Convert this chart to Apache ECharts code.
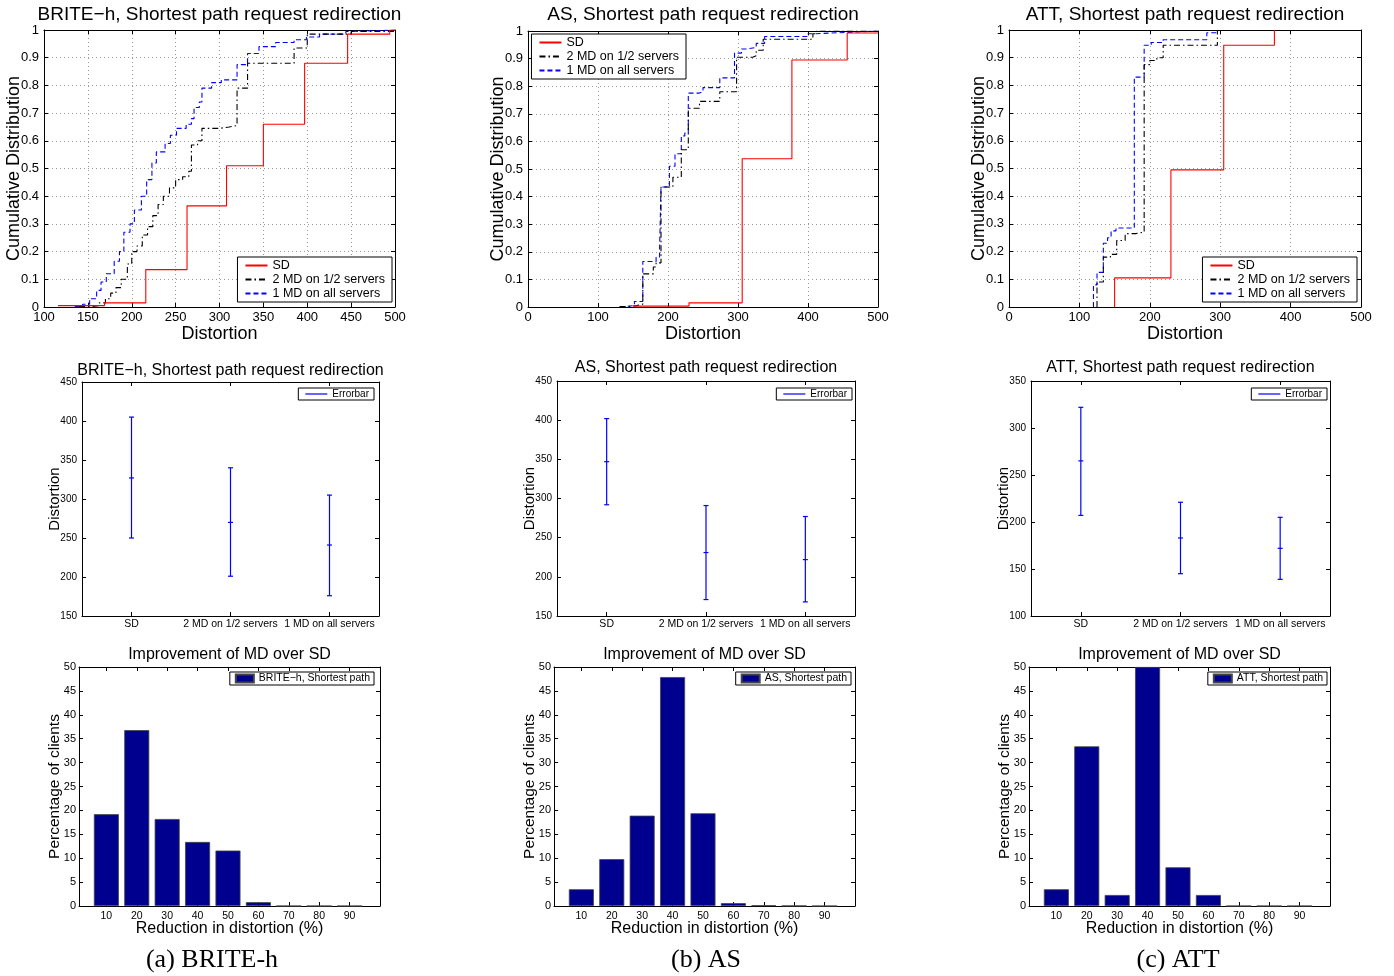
<!DOCTYPE html>
<html>
<head>
<meta charset="utf-8">
<title>Shortest path request redirection</title>
<script src="https://cdn.jsdelivr.net/npm/echarts@6/dist/echarts.min.js"></script>
<style>
    html, body { margin: 0; padding: 0; background: #fff; }
    #main { width: 1394px; height: 976px; }
</style>
</head>
<body>
<div id="main"></div>
<script>
// CDF of distortion, step points (x = distortion, y = cumulative)
const briteSdX = [116, 169, 216, 263, 308, 350, 397, 446, 494, 500];
const briteSdY = [0.005, 0.015, 0.135, 0.365, 0.51, 0.66, 0.88, 0.985, 1, 1];
const brite2mdX = [140, 155, 163, 170, 176, 182, 188, 195, 200, 206, 212, 218, 224, 230, 236, 243, 250, 258, 265, 268, 275, 280, 300, 311, 320, 332, 385, 400, 450, 500];
const brite2mdY = [0.002, 0.005, 0.015, 0.03, 0.05, 0.07, 0.1, 0.155, 0.2, 0.22, 0.26, 0.29, 0.33, 0.37, 0.40, 0.43, 0.46, 0.47, 0.49, 0.585, 0.6, 0.645, 0.65, 0.655, 0.79, 0.88, 0.935, 0.985, 0.995, 1];
const brite1mdX = [135, 144, 152, 160, 165, 171, 180, 186, 191, 198, 203, 211, 217, 223, 228, 238, 244, 251, 262, 268, 271, 277, 280, 291, 302, 320, 332, 345, 364, 385, 399, 414, 444, 452, 500];
const brite1mdY = [0.002, 0.01, 0.03, 0.06, 0.09, 0.12, 0.165, 0.2, 0.27, 0.3, 0.35, 0.4, 0.46, 0.52, 0.56, 0.59, 0.62, 0.645, 0.66, 0.68, 0.72, 0.74, 0.79, 0.81, 0.82, 0.875, 0.915, 0.94, 0.955, 0.965, 0.975, 0.985, 0.995, 1, 1];

const asSdX = [150, 230, 306, 377, 456, 500];
const asSdY = [0.003, 0.015, 0.537, 0.895, 0.993, 0.993];
const as2mdX = [131, 143, 155, 164, 179, 183, 190, 207, 219, 229, 245, 274, 298, 321, 326, 336, 407, 412, 500];
const as2mdY = [0.002, 0.005, 0.01, 0.12, 0.145, 0.16, 0.435, 0.47, 0.57, 0.72, 0.745, 0.78, 0.905, 0.91, 0.93, 0.97, 0.99, 1, 1];
const as1mdX = [131, 140, 152, 164, 183, 188, 190, 202, 210, 219, 224, 229, 245, 250, 274, 295, 305, 312, 326, 338, 400, 410, 455, 500];
const as1mdY = [0.002, 0.005, 0.02, 0.165, 0.18, 0.21, 0.435, 0.51, 0.555, 0.62, 0.63, 0.775, 0.78, 0.795, 0.83, 0.92, 0.935, 0.94, 0.955, 0.98, 0.99, 0.995, 1, 1];

const attSdX = [150, 150, 230, 305, 377];
const attSdY = [0, 0.105, 0.495, 0.945, 1];
const att2mdX = [125, 125, 134, 144, 153, 165, 180, 192, 200, 210, 219, 296];
const att2mdY = [0, 0.09, 0.18, 0.19, 0.24, 0.265, 0.27, 0.875, 0.89, 0.9, 0.945, 1];
const att1mdX = [120, 120, 125, 134, 140, 145, 152, 178, 192, 202, 219, 281, 296];
const att1mdY = [0, 0.08, 0.125, 0.23, 0.25, 0.275, 0.285, 0.83, 0.945, 0.955, 0.965, 0.99, 1];

// errorbars: mean / upper / lower
const errCategories = ['SD', '2 MD on 1/2 servers', '1 MD on all servers'];
const briteErrMean = [327, 270, 241];
const briteErrHigh = [405, 340, 305];
const briteErrLow = [250, 201, 176];
const asErrMean = [347, 231, 222];
const asErrHigh = [402, 291, 277];
const asErrLow = [292, 171, 168];
const attErrMean = [265, 183, 172];
const attErrHigh = [322, 221, 205];
const attErrLow = [207, 145, 139];

// histogram of reduction in distortion (%)
const reductionBins = [10, 20, 30, 40, 50, 60, 70, 80, 90];
const briteReduction = [19.2, 36.8, 18.2, 13.4, 11.6, 0.8, 0, 0, 0];
const asReduction = [3.5, 9.8, 18.9, 47.9, 19.4, 0.6, 0.15, 0.05, 0];
const attReduction = [3.5, 33.4, 2.3, 50, 8.1, 2.3, 0, 0, 0];

const FONT = 'Liberation Sans';
const SERIES_NAMES = ['SD', '2 MD on 1/2 servers', '1 MD on all servers'];

let grids = [], xAxis = [], yAxis = [], series = [], title = [], legend = [];

const zip = (xs, ys) => xs.map((x, i) => [x, ys[i]]);

// one axis; the top / right copies only carry the inward ticks
const makeAxis = (gi, pos, a, main) => {
    let axis = {
        gridIndex: gi,
        position: pos,
        type: a.type || 'value',
        axisLine: {show: true, onZero: false, lineStyle: {color: '#000', width: 1}},
        axisTick: {show: true, inside: true, length: 4, lineStyle: {color: '#000'}},
        axisLabel: {show: main, margin: a.margin || 4, fontFamily: FONT, fontSize: a.fontSize, color: '#000'},
        splitLine: {show: main && !!a.grid, lineStyle: {color: '#9a9a9a', width: 1, type: [1, 3]}}
    };
    if (a.min !== undefined) axis.min = a.min;
    if (a.max !== undefined) axis.max = a.max;
    if (a.interval !== undefined) axis.interval = a.interval;
    if (a.data) {
        axis.data = a.data;
        axis.boundaryGap = true;
        axis.axisTick.alignWithLabel = true;
        axis.axisLabel.interval = 0;
    }
    if (a.ticks) {
        axis.axisTick.customValues = a.ticks;
        axis.axisLabel.customValues = a.ticks;
    }
    if (main && a.name) {
        axis.name = a.name;
        axis.nameLocation = 'middle';
        axis.nameGap = a.nameGap;
        axis.nameMoveOverlap = false;
        axis.nameTextStyle = {fontFamily: FONT, fontSize: a.nameSize, color: '#000'};
    }
    return axis;
};

const addBox = (rect, xa, ya) => {
    let gi = grids.length;
    grids.push({left: rect[0], top: rect[1], width: rect[2], height: rect[3], outerBoundsMode: 'none'});
    let xi = xAxis.length, yi = yAxis.length;
    xAxis.push(makeAxis(gi, 'bottom', xa, true));
    xAxis.push(makeAxis(gi, 'top', xa, false));
    yAxis.push(makeAxis(gi, 'left', ya, true));
    yAxis.push(makeAxis(gi, 'right', ya, false));
    return {x: xi, y: yi};
};

const addTitle = (text, cx, top, size, family) => {
    title.push({
        text: text, left: cx, top: top, textAlign: 'center', padding: 0,
        textStyle: {fontFamily: family || FONT, fontSize: size, fontWeight: 'normal', color: '#000'}
    });
};

const boxLegend = (names, right, top, opt) => {
    legend.push(Object.assign({
        data: names, right: right, top: top, orient: 'vertical',
        backgroundColor: '#fff', borderColor: '#000', borderWidth: 1,
        selectedMode: false,
        textStyle: {fontFamily: FONT, fontSize: opt.fontSize, color: '#000', lineHeight: opt.lineHeight}
    }, opt.extra));
};

// ---------- top row: CDF ----------
const cdfPanel = (rect, xMin, xInt, titleText, lines, legendPos) => {
    let ax = addBox(rect,
        {min: xMin, max: 500, interval: xInt, fontSize: 13, margin: 4, grid: true, name: 'Distortion', nameGap: 18, nameSize: 18},
        {min: 0, max: 1, interval: 0.1, fontSize: 13, margin: 5, grid: true, name: 'Cumulative Distribution', nameGap: 21, nameSize: 18});
    let styles = [
        {color: '#ff0000', type: 'solid'},
        {color: '#000000', type: [6, 3, 1.5, 3]},
        {color: '#0000ff', type: [5, 3]}
    ];
    lines.forEach((l, i) => {
        series.push({
            name: SERIES_NAMES[i], type: 'line', step: 'end', symbol: 'none',
            xAxisIndex: ax.x, yAxisIndex: ax.y,
            data: zip(l[0], l[1]),
            lineStyle: {color: styles[i].color, type: styles[i].type, width: 1.1},
            itemStyle: {color: styles[i].color},
            z: 3 - i
        });
    });
    addTitle(titleText, rect[0] + rect[2] / 2, 5, 19);
    // line only in the legend, no marker
    boxLegend(SERIES_NAMES, legendPos[0], legendPos[1], {
        fontSize: 12.5, lineHeight: 13,
        extra: {itemWidth: 22, itemHeight: 2, itemGap: 1, padding: [2, 7, 2, 7], itemStyle: {opacity: 0}}
    });
};

cdfPanel([44, 30, 351, 277], 100, 50, 'BRITE\u2212h, Shortest path request redirection',
    [[briteSdX, briteSdY], [brite2mdX, brite2mdY], [brite1mdX, brite1mdY]], [1002, 257]);
cdfPanel([528, 31, 350, 276], 0, 100, 'AS, Shortest path request redirection',
    [[asSdX, asSdY], [as2mdX, as2mdY], [as1mdX, as1mdY]], [1394 - 686, 34]);
cdfPanel([1009, 30, 352, 277], 0, 100, 'ATT, Shortest path request redirection',
    [[attSdX, attSdY], [att2mdX, att2mdY], [att1mdX, att1mdY]], [37, 257]);

// ---------- middle row: errorbars ----------
const errorBarItem = (params, api) => {
    let x = api.value(0);
    let mid = api.coord([x, api.value(1)]);
    let hi = api.coord([x, api.value(2)]);
    let lo = api.coord([x, api.value(3)]);
    let c = 2.5;
    let seg = (x1, y1, x2, y2) => ({
        type: 'line', shape: {x1: x1, y1: y1, x2: x2, y2: y2},
        style: {stroke: '#0000ff', lineWidth: 1.2}
    });
    return {type: 'group', children: [
        seg(hi[0], hi[1], lo[0], lo[1]),
        seg(hi[0] - c, hi[1], hi[0] + c, hi[1]),
        seg(lo[0] - c, lo[1], lo[0] + c, lo[1]),
        seg(mid[0] - c, mid[1], mid[0] + c, mid[1])
    ]};
};

const errPanel = (rect, yMin, yMax, titleText, titleTop, mean, high, low, legendRight) => {
    let ax = addBox(rect,
        {type: 'category', data: errCategories, fontSize: 10.5, margin: 3},
        {min: yMin, max: yMax, interval: 50, fontSize: 10, margin: 5, name: 'Distortion', nameGap: 20, nameSize: 15});
    series.push({
        name: 'Errorbar', type: 'custom', renderItem: errorBarItem,
        xAxisIndex: ax.x, yAxisIndex: ax.y,
        itemStyle: {color: '#0000ff'},
        encode: {x: 0, y: [1, 2, 3]},
        data: errCategories.map((c, i) => [i, mean[i], high[i], low[i]])
    });
    addTitle(titleText, rect[0] + rect[2] / 2, titleTop, 16);
    boxLegend(['Errorbar'], legendRight, 388, {
        fontSize: 10, lineHeight: 10,
        extra: {icon: 'rect', itemWidth: 22, itemHeight: 1.2, itemGap: 0, padding: [1, 5, 1, 7]}
    });
};

errPanel([82, 382, 297, 234], 150, 450, 'BRITE\u2212h, Shortest path request redirection', 363,
    briteErrMean, briteErrHigh, briteErrLow, 1020);
errPanel([557, 381, 298, 235], 150, 450, 'AS, Shortest path request redirection', 360,
    asErrMean, asErrHigh, asErrLow, 542);
errPanel([1031, 381, 299, 235], 100, 350, 'ATT, Shortest path request redirection', 360,
    attErrMean, attErrHigh, attErrLow, 67);

// ---------- bottom row: histogram ----------
const barPanel = (rect, name, values, legendRight) => {
    let ax = addBox(rect,
        {min: 1, max: 100, ticks: reductionBins, fontSize: 10.5, margin: 5, name: 'Reduction in distortion (%)', nameGap: 15, nameSize: 16},
        {min: 0, max: 50, interval: 5, fontSize: 11, margin: 3, name: 'Percentage of clients', nameGap: 16, nameSize: 15.5});
    series.push({
        name: name, type: 'bar', barWidth: 25,
        xAxisIndex: ax.x, yAxisIndex: ax.y,
        data: zip(reductionBins, values),
        itemStyle: {color: '#00008f', borderColor: '#444', borderWidth: 0.8}
    });
    addTitle('Improvement of MD over SD', rect[0] + rect[2] / 2, 647, 16);
    boxLegend([name], legendRight, 672, {
        fontSize: 10.5, lineHeight: 11,
        extra: {icon: 'rect', itemWidth: 18, itemHeight: 8, itemGap: 0, padding: [1, 4, 1, 5]}
    });
};

barPanel([79, 667, 301, 239], 'BRITE\u2212h, Shortest path', briteReduction, 1020);
barPanel([554, 667, 301, 239], 'AS, Shortest path', asReduction, 543);
barPanel([1029, 667, 301, 239], 'ATT, Shortest path', attReduction, 67);

// captions
addTitle('(a) BRITE-h', 212, 947, 26, 'Liberation Serif');
addTitle('(b) AS', 706, 947, 26, 'Liberation Serif');
addTitle('(c) ATT', 1178, 947, 26, 'Liberation Serif');

let chart = echarts.init(document.getElementById('main'), null, {renderer: 'canvas'});
chart.setOption({
    animation: false,
    backgroundColor: '#fff',
    title: title,
    legend: legend,
    grid: grids,
    xAxis: xAxis,
    yAxis: yAxis,
    series: series
});
</script>
</body>
</html>
